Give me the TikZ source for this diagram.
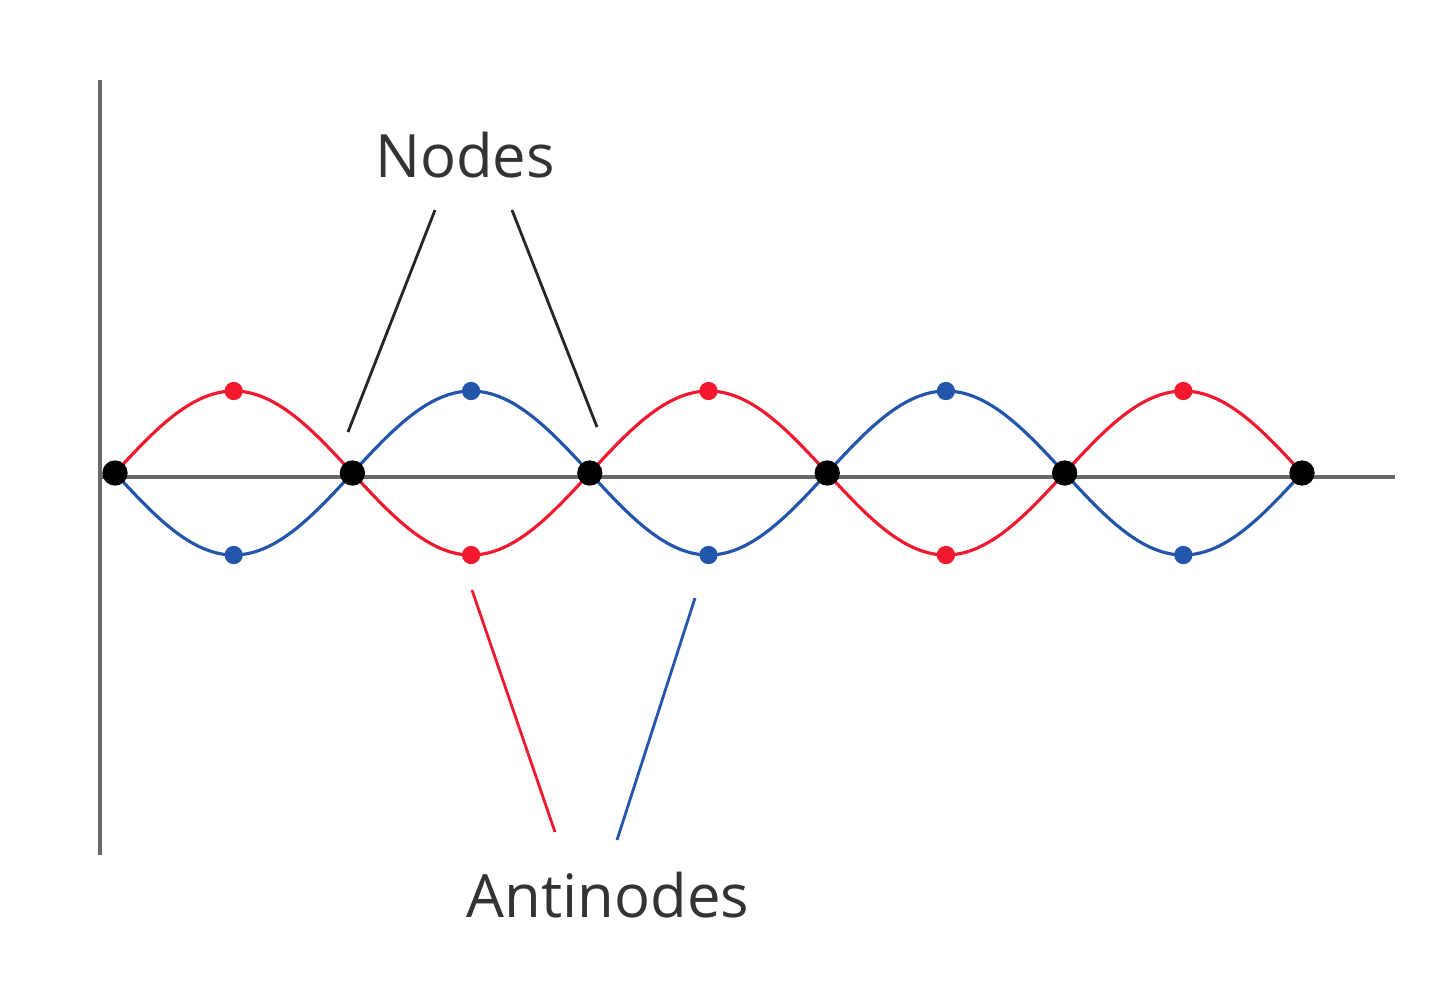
\documentclass[tikz,border=0pt]{standalone}
\usepackage{fontspec}
\setmainfont{Open Sans}
\definecolor{wred}{RGB}{240,25,45}
\definecolor{wblue}{RGB}{35,85,170}
\definecolor{axisgrey}{RGB}{105,105,105}
\begin{document}
\begin{tikzpicture}[x=0.01cm,y=-0.01cm,
  axis/.style={axisgrey,line width=1.1pt},
  wave/.style={line width=0.9pt},
  lbl/.style={font=\fontsize{17}{20}\selectfont,text=black!80},
  ptr/.style={line width=0.8pt}]
\useasboundingbox (0,0) rectangle (1440,990);
\draw[axis] (100,80) -- (100,855);
\draw[axis] (100,477) -- (1395,477);
\draw[wave,wred] plot[domain=115:1302,samples=300] (\x,{473-82*sin((\x-115)/237.4*180)});
\draw[wave,wblue] plot[domain=115:1302,samples=300] (\x,{473+82*sin((\x-115)/237.4*180)});
\foreach \i in {0,...,4}{
  \pgfmathsetmacro{\xa}{115+237.4*(\i+0.5)}
  \ifodd\i
    \fill[wblue] (\xa,391) circle (2.6pt);
    \fill[wred] (\xa,555) circle (2.6pt);
  \else
    \fill[wred] (\xa,391) circle (2.6pt);
    \fill[wblue] (\xa,555) circle (2.6pt);
  \fi
}
\foreach \i in {0,...,5}{
  \fill[black] ({115+237.4*\i},473) circle (3.6pt);
}
\node[lbl] (nodes) at (465,155) {Nodes};
\node[lbl] (anti) at (608,895) {Antinodes};
\coordinate (n1) at (348,432);
\coordinate (n2) at (597,427);
\coordinate (a1) at (472,590);
\coordinate (a2) at (695,598);
\draw[ptr,black!85] (435,210) -- (n1);
\draw[ptr,black!85] (512,210) -- (n2);
\draw[ptr,wred] (555,832) -- (a1);
\draw[ptr,wblue] (617,840) -- (a2);
\end{tikzpicture}
\end{document}
